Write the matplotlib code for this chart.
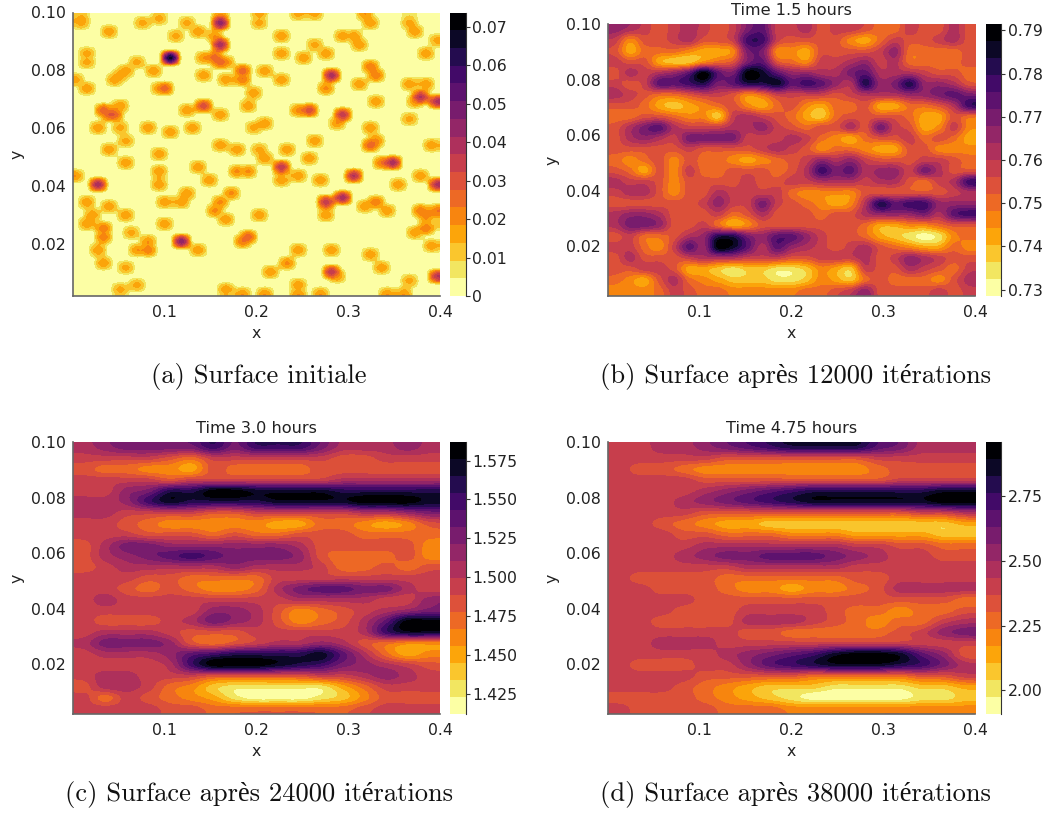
import numpy as np
import matplotlib
matplotlib.use('Agg')
import matplotlib.pyplot as plt
from matplotlib.colors import BoundaryNorm, ListedColormap

# sites of the initial surface: x, y, height
site_x = [.007, .007, .076, .092, .042, .126, .139, .115, .161, .161, .156, .158, .202, .202, .245, .264, .229, .321, .323,
          .365, .369, .375, .397, .294, .306, .266, .310, .230, .252, .277, .385, .018, .018, .104, .068, .059, .046, .052,
          .085, .144, .154, .161, .169, .140, .166, .183, .183, .210, .225, .279, .275, .327, .329, .310, .369, .385, .005,
          .017, .101, .095, .199, .189, .140, .122, .159, .328, .381, .396, .372, .246, .259, .366, .294, .285, .031, .037,
          .046, .051, .028, .053, .079, .107, .129, .195, .208, .327, .330, .323, .055, .037, .158, .178, .261, .203, .211,
          .235, .389, .092, .057, .095, .139, .151, .179, .191, .227, .256, .246, .229, .270, .304, .336, .350, .355, .379,
          .398, .006, .029, .092, .122, .121, .102, .170, .161, .153, .017, .039, .273, .294, .274, .316, .332, .340, .376,
          .385, .396, .058, .202, .022, .013, .164, .032, .032, .097, .400, .383, .374, .064, .190, .185, .120, .135, .389,
          .084, .082, .070, .028, .031, .244, .233, .283, .325, .336, .055, .218, .281, .290, .364, .398, .068, .053, .168,
          .248, .244, .208, .187, .272, .343, .359]
site_y = [.098, .0965, .096, .098, .093, .096, .093, .091, .096, .100, .092, .088, .100, .096, .100, .100, .092, .099, .0965,
          .100, .096, .093, .090, .092, .092, .089, .088, .085, .084, .085, .085, .086, .083, .084, .0825, .080, .077, .0785,
          .079, .0835, .0835, .082, .083, .078, .076, .079, .076, .079, .076, .078, .074, .081, .078, .075, .0755, .075, .077,
          .0735, .074, .073, .072, .068, .068, .066, .064, .0695, .070, .0685, .0695, .0655, .066, .063, .064, .061, .0665, .064,
          .064, .068, .0595, .060, .0595, .059, .0595, .0595, .061, .060, .056, .054, .055, .0525, .0545, .053, .056, .0525, .049,
          .0525, .054, .051, .048, .045, .046, .0425, .0455, .0445, .047, .049, .043, .0415, .042, .044, .048, .048, .041, .0435,
          .041, .0435, .040, .040, .038, .035, .035, .038, .035, .032, .034, .033, .035, .0355, .030, .0335, .035, .031, .032,
          .0305, .032, .030, .0305, .0305, .0275, .0285, .0255, .023, .0265, .027, .026, .0245, .0235, .023, .021, .0205, .018, .019,
          .0205, .018, .0185, .018, .0135, .0175, .013, .0175, .0165, .0125, .012, .0105, .0105, .0085, .0075, .0085, .0055, .005, .0045,
          .0055, .003, .003, .0025, .003, .003, .0025]
site_h = [18, 18, 18, 18, 20, 18, 20, 18, 50, 18, 20, 45, 18, 18, 18, 18, 20, 20, 20,
          8, 18, 20, 18, 20, 20, 18, 20, 20, 20, 20, 20, 18, 18, 74, 18, 20, 20, 20,
          20, 20, 30, 30, 22, 20, 20, 30, 25, 20, 20, 45, 22, 25, 25, 20, 20, 20, 18,
          20, 30, 20, 20, 20, 35, 20, 20, 20, 42, 42, 20, 22, 35, 18, 40, 20, 30, 30,
          30, 20, 20, 18, 20, 20, 20, 18, 20, 20, 22, 30, 18, 20, 20, 20, 20, 18, 20,
          20, 20, 20, 20, 20, 20, 20, 22, 22, 40, 20, 20, 20, 20, 42, 25, 45, 20, 20,
          42, 20, 45, 20, 20, 20, 20, 22, 22, 22, 20, 20, 40, 45, 20, 20, 25, 20, 25,
          25, 25, 20, 20, 20, 20, 20, 25, 25, 20, 12, 25, 20, 18, 30, 25, 50, 20, 20,
          20, 25, 20, 20, 20, 20, 22, 20, 20, 20, 18, 20, 40, 20, 18, 40, 18, 18, 20,
          20, 20, 20, 20, 20, 20, 20]

# colour band read at each grid node, 0 palest to 15 black, top row first
bands_b = [
    [9, 8, 7, 6, 7, 8, 7, 6, 7, 10, 11, 7, 7, 8, 6, 7, 7, 6, 5, 5, 7, 6, 6, 8, 6],
    [7, 4, 6, 6, 7, 8, 6, 6, 7, 12, 12, 7, 6, 6, 6, 6, 4, 3, 5, 7, 6, 6, 7, 8, 6],
    [6, 3, 5, 5, 5, 4, 3, 3, 4, 10, 10, 4, 4, 3, 6, 6, 6, 6, 7, 9, 5, 5, 5, 5, 6],
    [7, 6, 6, 3, 2, 2, 4, 5, 6, 10, 11, 6, 5, 4, 7, 7, 8, 9, 7, 8, 5, 5, 5, 5, 6],
    [6, 8, 7, 8, 9, 11, 15, 11, 10, 15, 14, 11, 9, 9, 8, 8, 10, 11, 8, 8, 8, 7, 6, 6, 5],
    [7, 6, 7, 11, 11, 12, 13, 10, 11, 13, 13, 14, 11, 12, 11, 9, 8, 13, 9, 10, 13, 9, 9, 8, 6],
    [8, 7, 6, 5, 5, 6, 7, 7, 6, 4, 5, 7, 7, 7, 7, 6, 7, 8, 8, 8, 9, 9, 10, 11, 10],
    [6, 6, 5, 3, 2, 3, 4, 5, 6, 4, 3, 5, 6, 4, 3, 5, 5, 6, 3, 3, 5, 5, 6, 8, 12],
    [5, 5, 6, 6, 5, 4, 4, 2, 7, 8, 7, 6, 5, 3, 2, 5, 6, 6, 6, 6, 5, 3, 3, 6, 5],
    [6, 8, 10, 11, 8, 7, 7, 7, 8, 8, 9, 7, 6, 5, 6, 6, 8, 6, 10, 7, 6, 3, 4, 7, 4],
    [6, 8, 9, 8, 7, 10, 10, 10, 10, 7, 7, 7, 8, 7, 5, 4, 3, 5, 6, 6, 7, 5, 6, 5, 3],
    [6, 6, 6, 6, 6, 7, 6, 6, 6, 6, 7, 8, 7, 6, 4, 5, 5, 4, 3, 3, 6, 6, 4, 4, 4],
    [5, 4, 5, 6, 4, 6, 5, 5, 4, 3, 4, 5, 6, 7, 9, 8, 9, 7, 6, 6, 6, 7, 7, 6, 5],
    [6, 5, 3, 6, 4, 7, 5, 5, 6, 6, 6, 5, 6, 8, 12, 10, 11, 8, 9, 9, 7, 10, 8, 6, 6],
    [8, 7, 7, 6, 4, 6, 6, 6, 6, 7, 6, 6, 7, 7, 8, 8, 8, 7, 8, 8, 6, 5, 7, 8, 12],
    [7, 8, 8, 6, 4, 6, 6, 8, 7, 7, 7, 7, 5, 4, 4, 4, 4, 6, 6, 6, 6, 6, 6, 7, 8],
    [6, 6, 6, 6, 6, 6, 7, 9, 7, 7, 10, 7, 6, 5, 4, 3, 4, 8, 13, 11, 12, 12, 9, 9, 9],
    [8, 9, 9, 8, 6, 6, 6, 7, 5, 6, 8, 6, 6, 6, 5, 6, 6, 8, 9, 9, 9, 10, 8, 11, 12],
    [8, 10, 10, 9, 6, 6, 7, 5, 3, 4, 6, 6, 6, 6, 6, 6, 6, 5, 3, 3, 4, 4, 5, 6, 6],
    [6, 7, 5, 5, 6, 8, 9, 13, 13, 10, 9, 11, 11, 9, 7, 6, 6, 5, 3, 2, 1, 0, 1, 4, 5],
    [7, 7, 5, 4, 7, 11, 9, 15, 14, 11, 8, 11, 9, 8, 7, 6, 7, 8, 6, 5, 4, 3, 3, 5, 4],
    [6, 8, 6, 6, 6, 7, 8, 8, 8, 7, 7, 7, 6, 6, 7, 7, 7, 8, 6, 7, 9, 8, 7, 6, 6],
    [6, 6, 7, 7, 6, 3, 3, 2, 1, 2, 2, 1, 1, 2, 4, 3, 2, 7, 6, 6, 8, 7, 6, 5, 7],
    [5, 4, 3, 6, 8, 5, 4, 3, 2, 2, 2, 1, 1, 2, 4, 3, 2, 5, 6, 5, 5, 5, 4, 6, 8],
    [4, 4, 4, 5, 7, 6, 5, 5, 4, 4, 4, 4, 4, 5, 5, 6, 7, 9, 6, 6, 6, 6, 7, 6, 7],
]
bands_c = [
    [8, 9, 10, 10, 10, 10, 12, 10, 12, 12, 12, 10, 8, 8, 8, 9, 8],
    [7, 7, 7, 7, 6, 5, 7, 7, 7, 7, 7, 7, 6, 6, 7, 7, 7],
    [6, 5, 5, 4, 4, 3, 6, 5, 5, 5, 5, 6, 6, 6, 6, 6, 6],
    [7, 7, 7, 7, 6, 7, 7, 7, 7, 7, 7, 7, 8, 8, 8, 8, 8],
    [7, 7, 9, 10, 13, 13, 15, 15, 14, 14, 14, 14, 13, 13, 13, 13, 13],
    [8, 8, 9, 12, 14, 13, 13, 13, 13, 14, 14, 14, 14, 15, 15, 15, 14],
    [8, 8, 7, 7, 7, 7, 6, 6, 7, 7, 7, 7, 7, 8, 8, 9, 10],
    [7, 7, 6, 5, 4, 4, 4, 4, 4, 3, 3, 5, 5, 4, 3, 4, 6],
    [7, 7, 7, 6, 6, 6, 5, 6, 5, 5, 6, 6, 6, 5, 5, 5, 5],
    [6, 8, 10, 10, 9, 9, 9, 9, 9, 9, 8, 6, 6, 6, 6, 6, 4],
    [6, 8, 9, 10, 11, 12, 11, 10, 10, 10, 9, 6, 5, 5, 5, 6, 4],
    [6, 7, 8, 8, 8, 8, 8, 9, 8, 8, 8, 7, 5, 5, 6, 5, 6],
    [7, 7, 7, 6, 6, 5, 5, 5, 5, 7, 7, 7, 7, 7, 7, 7, 7],
    [7, 7, 6, 5, 6, 5, 4, 4, 5, 8, 10, 11, 11, 10, 10, 8, 7],
    [7, 8, 7, 7, 7, 7, 7, 7, 7, 7, 8, 8, 8, 8, 7, 7, 9],
    [7, 7, 7, 7, 7, 7, 9, 9, 8, 6, 4, 5, 6, 7, 8, 9, 10],
    [7, 6, 6, 6, 7, 8, 10, 9, 8, 6, 4, 5, 6, 8, 11, 15, 15],
    [7, 8, 8, 8, 7, 6, 6, 6, 7, 7, 7, 7, 7, 8, 12, 14, 14],
    [8, 10, 10, 10, 9, 6, 5, 6, 7, 8, 8, 9, 8, 6, 5, 4, 4],
    [7, 8, 8, 8, 9, 11, 12, 13, 13, 13, 13, 14, 11, 8, 5, 3, 4],
    [7, 7, 7, 7, 8, 12, 15, 15, 15, 14, 13, 12, 10, 9, 8, 7, 6],
    [7, 8, 8, 7, 7, 7, 6, 6, 6, 6, 6, 7, 7, 8, 9, 8, 7],
    [6, 8, 8, 7, 5, 4, 2, 1, 1, 1, 1, 1, 3, 5, 7, 7, 7],
    [7, 5, 7, 6, 5, 4, 3, 1, 0, 0, 0, 1, 2, 4, 6, 6, 6],
    [7, 7, 7, 7, 6, 6, 5, 5, 5, 5, 5, 5, 5, 6, 7, 7, 7],
]
bands_d = [
    [7, 7, 8, 8, 9, 10, 11, 12, 13, 13, 13, 13, 11, 10, 8, 8, 8],
    [7, 7, 7, 7, 7, 6, 6, 6, 6, 6, 6, 6, 7, 7, 7, 7, 7],
    [7, 6, 6, 5, 4, 4, 4, 4, 4, 4, 4, 4, 5, 6, 6, 6, 6],
    [7, 7, 7, 7, 6, 6, 6, 6, 6, 6, 6, 6, 6, 7, 7, 7, 7],
    [7, 7, 7, 7, 8, 9, 10, 11, 12, 13, 13, 13, 13, 13, 13, 14, 14],
    [7, 7, 7, 8, 9, 10, 11, 12, 13, 14, 14, 14, 14, 14, 14, 15, 15],
    [7, 7, 7, 7, 6, 6, 6, 6, 6, 6, 6, 6, 6, 6, 7, 7, 8],
    [7, 7, 6, 5, 4, 3, 3, 2, 2, 2, 2, 2, 2, 2, 2, 2, 3],
    [7, 7, 7, 6, 6, 5, 5, 5, 4, 4, 4, 3, 3, 3, 3, 2, 2],
    [7, 7, 7, 7, 8, 8, 8, 8, 8, 8, 8, 7, 7, 6, 6, 5, 5],
    [7, 7, 7, 8, 9, 10, 10, 11, 11, 11, 10, 9, 8, 7, 7, 6, 6],
    [7, 7, 7, 7, 7, 7, 8, 8, 8, 8, 8, 7, 7, 7, 7, 7, 7],
    [7, 6, 6, 6, 6, 5, 5, 5, 5, 5, 5, 6, 6, 7, 7, 7, 7],
    [7, 7, 6, 6, 6, 5, 4, 4, 3, 4, 4, 5, 6, 8, 8, 8, 8],
    [7, 7, 7, 7, 6, 6, 6, 6, 6, 6, 6, 6, 6, 6, 6, 6, 5],
    [7, 7, 7, 6, 6, 6, 7, 7, 7, 7, 6, 5, 5, 4, 5, 5, 6],
    [7, 7, 6, 6, 6, 6, 8, 8, 8, 7, 6, 5, 4, 5, 5, 7, 8],
    [7, 7, 7, 7, 7, 7, 6, 6, 5, 5, 5, 5, 5, 6, 7, 9, 10],
    [7, 7, 8, 8, 8, 7, 7, 7, 7, 7, 7, 7, 7, 7, 7, 7, 7],
    [7, 7, 7, 7, 7, 8, 9, 10, 11, 12, 14, 15, 15, 14, 11, 9, 6],
    [7, 6, 6, 6, 7, 7, 9, 11, 12, 13, 14, 14, 14, 13, 12, 10, 8],
    [7, 7, 7, 7, 6, 6, 6, 6, 6, 5, 5, 5, 5, 5, 6, 6, 7],
    [7, 7, 7, 6, 5, 4, 3, 2, 2, 2, 1, 1, 1, 1, 2, 2, 3],
    [6, 6, 6, 6, 5, 4, 3, 2, 1, 0, 0, 0, 0, 0, 1, 1, 2],
    [7, 6, 6, 6, 6, 5, 5, 5, 4, 4, 4, 4, 4, 4, 4, 4, 4],
]

ranges = [(0.0, 0.0737), (0.7285, 0.7915), (1.4119, 1.587), (1.9085, 2.96)]
cbar_ticks = [[0, .01, .02, .03, .04, .05, .06, .07],
              [.73, .74, .75, .76, .77, .78, .79],
              [1.425, 1.45, 1.475, 1.5, 1.525, 1.55, 1.575],
              [2.0, 2.25, 2.5, 2.75]]
cbar_labels = [['0', '0.01', '0.02', '0.03', '0.04', '0.05', '0.06', '0.07'],
               ['0.73', '0.74', '0.75', '0.76', '0.77', '0.78', '0.79'],
               ['1.425', '1.450', '1.475', '1.500', '1.525', '1.550', '1.575'],
               ['2.00', '2.25', '2.50', '2.75']]
titles = ['', 'Time 1.5 hours', 'Time 3.0 hours', 'Time 4.75 hours']
captions = ['(a) Surface initiale', '(b) Surface après 12000 itérations',
            '(c) Surface après 24000 itérations', '(d) Surface après 38000 itérations']

# sites go on an empty grid, the footprint gives each one its rounded shoulder
nx, ny = 66, 65
footprint = np.array([[.5, .78, .5], [.78, 1, .78], [.5, .78, .5]])
surface_a = np.zeros((ny + 2, nx + 2))
for sx, sy, sh in zip(site_x, site_y, site_h):
    c = min(int(sx / 0.4 * nx), nx - 1) + 1
    r = min(int((0.1 - sy) / 0.098 * ny), ny - 1) + 1
    surface_a[r - 1:r + 2, c - 1:c + 2] = np.maximum(surface_a[r - 1:r + 2, c - 1:c + 2], footprint * sh / 1000)
surface_a = surface_a[1:-1, 1:-1]


def from_bands(bands, lo, hi):
    return lo + (np.array(bands) + 0.5) * (hi - lo) / 16


surfaces = [surface_a,
            from_bands(bands_b, *ranges[1]),
            from_bands(bands_c, *ranges[2]),
            from_bands(bands_d, *ranges[3])]

W, H = 1052, 814
# left, right, top, bottom in pixels
boxes = [(73, 440, 12.5, 296), (608, 975, 24, 296), (73, 440, 442, 714), (608, 975, 442, 714)]
cbar_x = [(450, 465.5), (986, 1001), (450, 465.5), (986, 1001)]
caption_x = [259, 795, 259, 795]
caption_y = [376, 376, 794, 794]

cmap = ListedColormap(plt.get_cmap('inferno_r')(np.linspace(0, 1, 16)))
fig = plt.figure(figsize=(W / 100, H / 100), dpi=100)

for i in range(4):
    l, r, t, b = boxes[i]
    ax = fig.add_axes([l / W, 1 - b / H, (r - l) / W, (b - t) / H])
    lo, hi = ranges[i]
    norm = BoundaryNorm(np.linspace(lo, hi, 17), 16, clip=True)
    im = ax.imshow(surfaces[i], cmap=cmap, norm=norm, extent=(0, 0.4, 0.002, 0.1), aspect='auto',
                   interpolation='gaussian' if i == 0 else 'catrom', interpolation_stage='data')
    ax.set_xlim(0, 0.4)
    ax.set_ylim(0.002, 0.1)
    ax.set_xticks([0.1, 0.2, 0.3, 0.4], ['0.1', '0.2', '0.3', '0.4'])
    ax.set_yticks([0.02, 0.04, 0.06, 0.08, 0.1], ['0.02', '0.04', '0.06', '0.08', '0.10'])
    ax.tick_params(length=0, labelsize=11.3, colors='#222222')
    ax.tick_params(axis='x', pad=6.5)
    ax.tick_params(axis='y', pad=5)
    ax.spines['top'].set_visible(False)
    ax.spines['right'].set_visible(False)
    ax.spines['left'].set_color('#666666')
    ax.spines['bottom'].set_color('#666666')
    ax.spines['left'].set_linewidth(1.2)
    ax.spines['bottom'].set_linewidth(1.2)
    ax.set_xlabel('x', fontsize=11.3, labelpad=4, color='#222222')
    ax.set_ylabel('y', fontsize=11.3, labelpad=4.5, color='#222222')
    if titles[i]:
        ax.set_title(titles[i], fontsize=11.6, pad=6.5, color='#222222')

    cax = fig.add_axes([cbar_x[i][0] / W, 1 - b / H, (cbar_x[i][1] - cbar_x[i][0]) / W, (b - t) / H])
    cb = fig.colorbar(im, cax=cax, spacing='proportional')
    cb.set_ticks(cbar_ticks[i], labels=cbar_labels[i])
    cb.minorticks_off()
    cb.outline.set_visible(False)
    cax.spines['right'].set_visible(True)
    cax.spines['right'].set_color('#333333')
    cax.tick_params(length=3, width=0.8, pad=2, labelsize=11.3, color='#333333', labelcolor='#222222')

    fig.text(caption_x[i] / W, 1 - caption_y[i] / H, captions[i], ha='center', va='center',
             fontsize=19.1, family=['cmr10', 'Liberation Serif'], color='#111111')

fig.savefig('out.png', dpi=100)
